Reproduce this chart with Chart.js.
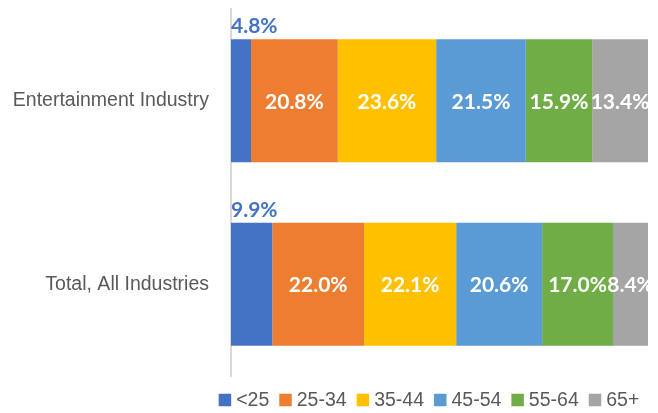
<!DOCTYPE html>
<html>
<head>
<meta charset="utf-8">
<script src="https://cdn.jsdelivr.net/npm/chart.js@4/dist/chart.umd.min.js"></script>
<style>
  html, body { margin: 0; padding: 0; background: #fff; }
  #wrap { width: 658px; height: 413px; position: relative; }
</style>
</head>
<body>
<div id="wrap"><canvas id="c" width="658" height="413"></canvas></div>
<script>
const categories = ['Entertainment Industry', 'Total, All Industries'];
const ageGroups = ['<25', '25-34', '35-44', '45-54', '55-64', '65+'];
const under25 = [4.8, 9.9];
const age25to34 = [20.8, 22.0];
const age35to44 = [23.6, 22.1];
const age45to54 = [21.5, 20.6];
const age55to64 = [15.9, 17.0];
const age65plus = [13.4, 8.4];
const seriesValues = [under25, age25to34, age35to44, age45to54, age55to64, age65plus];
const seriesColors = ['#4472C4', '#ED7D31', '#FFC000', '#5B9BD5', '#70AD47', '#A5A5A5'];

const SANS = "'Liberation Sans', Arial, sans-serif";
const LABEL_FONT = "bold 21px Lato, 'Liberation Sans', sans-serif";

const labelPlugin = {
  id: 'segLabels',
  afterDatasetsDraw(chart) {
    const ctx = chart.ctx;
    ctx.save();
    ctx.font = LABEL_FONT;
    chart.data.datasets.forEach((ds, di) => {
      const meta = chart.getDatasetMeta(di);
      meta.data.forEach((el, i) => {
        const v = ds.data[i];
        const txt = v.toFixed(1) + '%';
        if (di === 0) {
          ctx.fillStyle = '#4472C4';
          ctx.textAlign = 'left';
          ctx.textBaseline = 'alphabetic';
          const top = el.y - el.height / 2;
          ctx.fillText(txt, el.base, top - 6);
        } else {
          ctx.fillStyle = '#FFFFFF';
          ctx.textAlign = 'center';
          ctx.textBaseline = 'middle';
          ctx.fillText(txt, (el.x + el.base) / 2, el.y + 1);
        }
      });
    });
    ctx.restore();
  }
};

const legendPlugin = {
  id: 'customLegend',
  afterDraw(chart) {
    const ctx = chart.ctx;
    ctx.save();
    ctx.font = '19.5px ' + SANS;
    ctx.textBaseline = 'middle';
    ctx.textAlign = 'left';
    const box = 12.5, gapText = 5, gapItem = 10;
    const items = chart.data.datasets.map(ds => ({ text: ds.label, color: ds.backgroundColor, w: ctx.measureText(ds.label).width }));
    let total = 0;
    items.forEach((it, k) => { total += box + gapText + it.w + (k < items.length - 1 ? gapItem : 0); });
    let x = 429 - total / 2;
    const cy = 400;
    items.forEach(it => {
      ctx.fillStyle = it.color;
      ctx.fillRect(x, cy - box / 2, box, box);
      x += box + gapText;
      ctx.fillStyle = '#595959';
      ctx.fillText(it.text, x, cy + 1);
      x += it.w + gapItem;
    });
    ctx.restore();
  }
};

new Chart(document.getElementById('c'), {
  type: 'bar',
  data: {
    labels: categories,
    datasets: seriesValues.map((vals, k) => ({
      label: ageGroups[k],
      data: vals,
      backgroundColor: seriesColors[k],
      borderWidth: 0,
      barPercentage: 0.67,
      categoryPercentage: 1.0
    }))
  },
  options: {
    indexAxis: 'y',
    responsive: false,
    animation: false,
    devicePixelRatio: 1,
    layout: { padding: { left: 0, right: 10, top: 9, bottom: 37 } },
    plugins: {
      legend: { display: false },
      tooltip: { enabled: false },
      title: { display: false }
    },
    scales: {
      x: { stacked: true, display: false, min: 0, max: 100 },
      y: {
        stacked: true,
        grid: { display: false, drawTicks: false },
        border: { display: true, color: '#D9D9D9', width: 2 },
        ticks: {
          color: '#595959',
          padding: 22,
          font: { family: SANS, size: 19.5 }
        },
        afterFit(scale) {
          scale.width = 231;
          scale.paddingTop = 0;
          scale.paddingBottom = 0;
        }
      }
    }
  },
  plugins: [labelPlugin, legendPlugin]
});
</script>
</body>
</html>
